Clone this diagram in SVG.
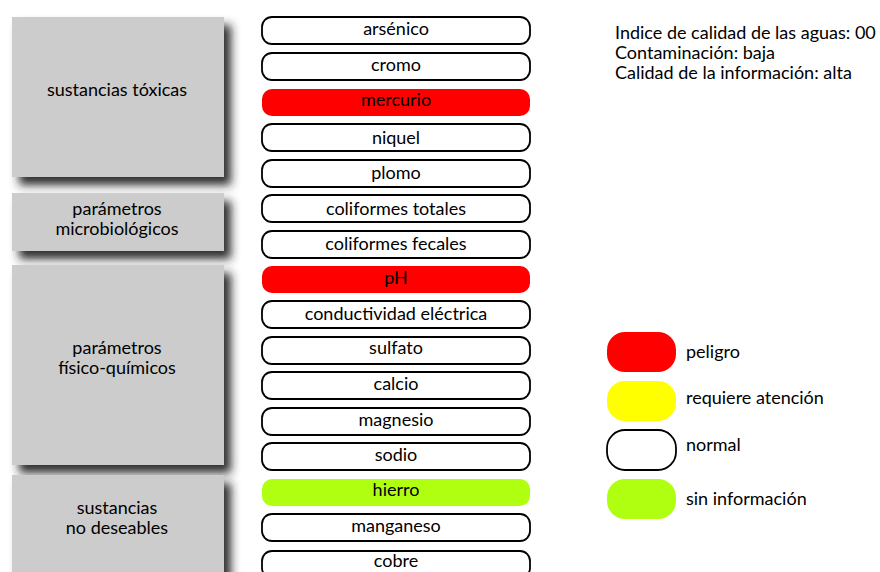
<svg xmlns="http://www.w3.org/2000/svg" width="880" height="572" viewBox="0 0 880 572">
<defs>
<filter id="sh" x="-10%" y="-10%" width="130%" height="140%">
<feDropShadow dx="7" dy="8" stdDeviation="5" flood-color="#222" flood-opacity="0.95"/>
</filter>
</defs>
<style>
text{font-family:Lato,"Open Sans",sans-serif;font-size:18px;fill:#000;text-anchor:middle}
.grp rect{fill:#ccc;filter:url(#sh)}
.p{stroke:#000;stroke-width:1.8}
.n{fill:#fff}
.r{fill:#ff0000;stroke:none}
.y{fill:#ffff00;stroke:none}
.g{fill:#b0ff10;stroke:none}
.info text,.leg text{text-anchor:start}
</style>
<rect width="880" height="572" fill="#fff"/>
<g id="g-toxicas" class="grp"><rect x="12" y="17" width="212" height="160"/><text x="117" y="96">sustancias tóxicas</text></g>
<g id="g-micro" class="grp"><rect x="12" y="193" width="212" height="58"/><text x="117" y="215">parámetros</text><text x="117" y="235">microbiológicos</text></g>
<g id="g-fisico" class="grp"><rect x="12" y="265" width="212" height="200"/><text x="117" y="354">parámetros</text><text x="117" y="374">físico-químicos</text></g>
<g id="g-nodes" class="grp"><rect x="12" y="475" width="212" height="110"/><text x="117" y="514">sustancias</text><text x="117" y="534">no deseables</text></g>

<g id="n-arsenico"><rect class="p n" x="262" y="17" width="268" height="27" rx="10"/><text x="396" y="35">arsénico</text></g>
<g id="n-cromo"><rect class="p n" x="262" y="53" width="268" height="27" rx="10"/><text x="396" y="71">cromo</text></g>
<g id="n-mercurio"><rect class="p r" x="262" y="89" width="268" height="27" rx="10"/><text x="396" y="106">mercurio</text></g>
<g id="n-niquel"><rect class="p n" x="262" y="124" width="268" height="27" rx="10"/><text x="396" y="144">niquel</text></g>
<g id="n-plomo"><rect class="p n" x="262" y="160" width="268" height="27" rx="10"/><text x="396" y="179">plomo</text></g>
<g id="n-coltot"><rect class="p n" x="262" y="195" width="268" height="27" rx="10"/><text x="396" y="215">coliformes totales</text></g>
<g id="n-colfec"><rect class="p n" x="262" y="231" width="268" height="27" rx="10"/><text x="396" y="250">coliformes fecales</text></g>
<g id="n-ph"><rect class="p r" x="262" y="266" width="268" height="27" rx="10"/><text x="396" y="284">pH</text></g>
<g id="n-cond"><rect class="p n" x="262" y="301" width="268" height="27" rx="10"/><text x="396" y="320">conductividad eléctrica</text></g>
<g id="n-sulfato"><rect class="p n" x="262" y="337" width="268" height="27" rx="10"/><text x="396" y="354">sulfato</text></g>
<g id="n-calcio"><rect class="p n" x="262" y="372" width="268" height="27" rx="10"/><text x="396" y="390">calcio</text></g>
<g id="n-magnesio"><rect class="p n" x="262" y="408" width="268" height="27" rx="10"/><text x="396" y="426">magnesio</text></g>
<g id="n-sodio"><rect class="p n" x="262" y="443" width="268" height="27" rx="10"/><text x="396" y="461">sodio</text></g>
<g id="n-hierro"><rect class="p g" x="262" y="479" width="268" height="27" rx="10"/><text x="396" y="496">hierro</text></g>
<g id="n-manganeso"><rect class="p n" x="262" y="514" width="268" height="27" rx="10"/><text x="396" y="532">manganeso</text></g>
<g id="n-cobre"><rect class="p n" x="262" y="551" width="268" height="27" rx="10"/><text x="396" y="567">cobre</text></g>

<g id="info" class="info">
<text x="615" y="39">Indice de calidad de las aguas: 00</text>
<text x="615" y="59">Contaminación: baja</text>
<text x="615" y="79">Calidad de la información: alta</text>
</g>

<g id="legend" class="leg">
<g id="l-peligro"><rect class="r" x="607" y="332" width="69" height="40" rx="18"/><text x="686" y="358">peligro</text></g>
<g id="l-atencion"><rect class="y" x="607" y="381" width="69" height="40" rx="18"/><text x="686" y="404">requiere atención</text></g>
<g id="l-normal"><rect class="p n" x="607" y="430" width="69" height="40" rx="18"/><text x="686" y="451">normal</text></g>
<g id="l-sininfo"><rect class="g" x="607" y="479" width="69" height="40" rx="18"/><text x="686" y="505">sin información</text></g>
</g>
<g id="connectors"/>
</svg>
